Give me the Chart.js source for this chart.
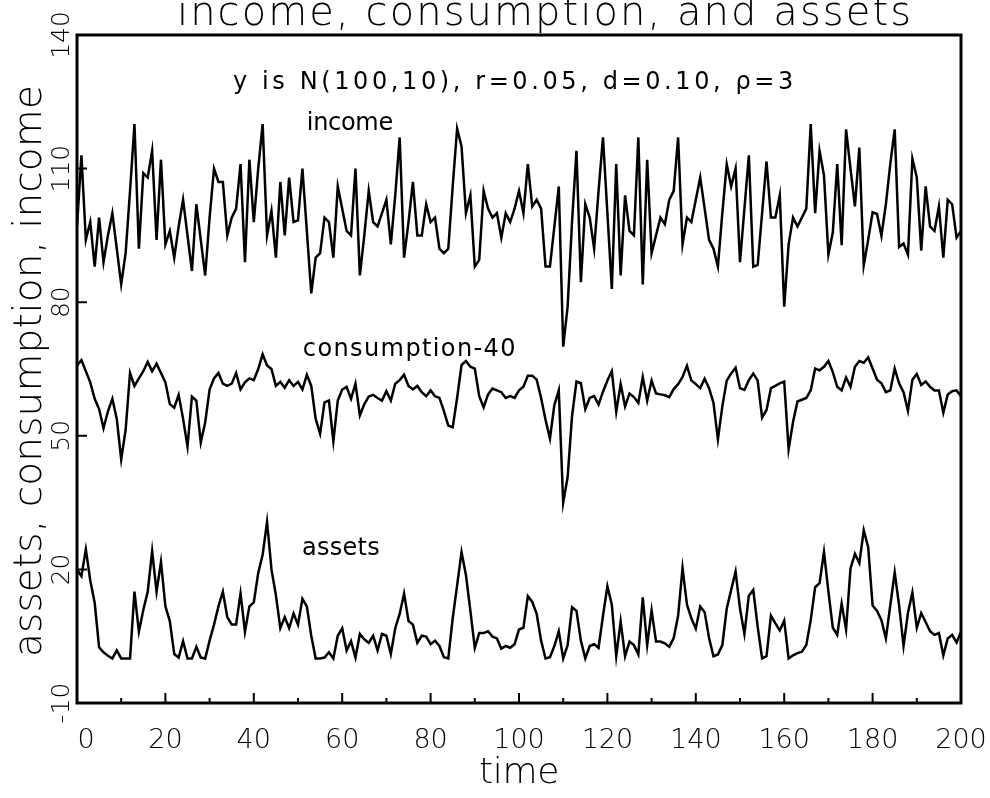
<!DOCTYPE html>
<html>
<head>
<meta charset="utf-8">
<title>income, consumption, and assets</title>
<script src="https://cdn.jsdelivr.net/npm/chart.js@4.4.0/dist/chart.umd.min.js"></script>
<style>
  html, body { margin: 0; padding: 0; background: #fff; }
  #wrap { width: 990px; height: 798px; }
</style>
</head>
<body>
<div id="wrap"><canvas id="chart" width="990" height="798"></canvas></div>
<script>
// ── Data ────────────────────────────────────────────────────────────────────

const chartTitle = "income, consumption, and assets";
const xTitle = "time";
const yTitle = "assets, consumption, income";

const xMajorTicks = [0, 20, 40, 60, 80, 100, 120, 140, 160, 180, 200];
const xMinorTicks = [10, 30, 50, 70, 90, 110, 130, 150, 170, 190];
const yTicks = [-10, 20, 50, 80, 110, 140];

// income, t = 0..200
const income = [
  97, 113, 94, 98, 88, 99, 89, 95, 100, 92, 84, 91, 105, 120, 92, 109, 108, 114, 94, 112,
  93, 96, 90, 97, 103, 95, 87, 102, 94, 86, 99, 110, 107, 107, 95, 99, 101, 111, 89,
  112, 98, 110, 120, 95, 100.5, 90, 107, 95, 108, 98, 98.4, 110, 96, 82, 90, 91, 99, 98, 90,
  106, 101, 96, 95, 110, 86, 95, 105, 98, 97, 100, 103, 93, 104, 117, 90, 98, 107, 95,
  95, 102, 98, 99, 92, 91, 92, 106, 119, 115, 100, 104, 88, 89.5, 105, 101, 99, 100, 94.5, 100,
  98, 101, 105, 100, 111, 101.5, 103, 101, 88, 88, 97, 106, 70, 79, 98, 114, 84.5, 102, 99, 92,
  105, 117, 100, 83, 111, 86, 104, 96, 95, 117, 84, 112, 91, 95, 99, 97.5, 103, 105, 117, 93,
  99, 98, 103, 108, 101, 94, 92, 88, 100, 111, 106, 110, 89, 101, 113, 88, 88.4, 100, 111.6,
  99, 99, 104, 79, 93, 99, 97, 99, 101, 120, 100, 114, 108.5, 90.7, 95.7, 111, 92.8, 118.8, 110, 101.5,
  114.7, 88.3, 94, 100.2, 99.8, 94.9, 102, 111, 118.8, 92.4, 93.2, 90.7, 112.2, 108, 91.6, 106, 97, 96, 101.5, 90,
  103, 102, 94.5, 96
];

// consumption minus 40, t = 0..200
const consumptionLess40 = [
  65.8, 67, 64.5, 62, 58.3, 56, 51.7, 55.5, 58.3, 53.8, 44.7, 51.3, 64.1, 61.2, 62.9, 64.5, 66.6, 64.5, 66.2, 64.1,
  62, 57.1, 56.3, 59.2, 53.8, 47.6, 58.8, 57.9, 48.5, 53, 60.4, 62.9, 64.1, 61.7, 61.2, 61.7, 64.1, 60.4, 62,
  62.9, 62.5, 65, 68.3, 65.8, 65, 61.2, 62.1, 60.8, 62.5, 61.2, 62.1, 60.4, 63.7, 61.2, 53.8, 50.5, 57.5, 57.9, 48.8,
  57.9, 60.4, 61, 58.3, 61.7, 54.6, 57.1, 58.8, 59.2, 58.5, 57.9, 60, 57.9, 61.7, 62.5, 63.7, 61.2, 60.4, 61.2,
  59.8, 58.9, 60.2, 58.9, 58.5, 55.6, 52.3, 51.9, 58.5, 65.9, 66.8, 65.5, 65.1, 58.9, 56.4, 59.3, 60.6, 60.2, 59.8, 58.5,
  58.9, 58.5, 60.2, 61, 63.5, 63.5, 62.6, 58.5, 53.6, 49.4, 56.9, 60.2, 35, 40.7, 54.4, 62.2, 61.8, 56, 58.5, 58.9,
  57, 59.9, 62.4, 64.5, 55.4, 61.6, 56.6, 59.5, 58.7, 57.4, 63.2, 57.9, 62.4, 59.5, 59.3, 59.1, 58.7, 60.5, 61.6, 63.2,
  65.7, 62.4, 61.6, 60.7, 62.8, 60.7, 57.4, 49.2, 56.6, 62.4, 64, 65.3, 60.7, 60.3, 62.5, 64, 62.4, 54.1, 55.8, 60.7, 61.2,
  61.8, 62.2, 47, 53.1, 57.7, 58.1, 58.5, 60.2, 65.1, 64.7, 65.5, 66.8, 64.3, 61, 60.2, 63.1, 61, 65.5, 66.8, 66.4,
  67.6, 65.1, 62.6, 61.8, 59.8, 60.2, 65.1, 61.8, 59.8, 55.6, 62.6, 63.9, 61.4, 62.2, 61, 60.2, 60.2, 55.2, 59.3, 60,
  60.2, 58.9
];

// assets, t = 0..200
const assets = [
  20, 18.5, 24.5, 17.5, 12.5, 2.5, 1.4, 0.6, 0, 1.8, 0, 0, 0, 15, 6, 10.9, 15, 24.1, 15, 21.7,
  11.7, 8.4, 1, 0.2, 3.9, 0, 0, 2.6, 0.2, 0, 4, 7.6, 11.7, 15, 9.3, 7.6, 7.6, 14.6, 6, 11.7,
  12.6, 19.2, 23.3, 30.7, 20, 14.2, 6.8, 9.3, 6.8, 10.1, 7.6, 13.4, 11.7, 5.1, 0, 0, 0.2, 1.4, 0, 5.1,
  6.8, 1.8, 3.9, 0.2, 5.5, 4.3, 3.5, 5.1, 1.8, 5.5, 5.1, 1, 6.8, 10, 14.6, 8.4, 7.6, 3.5, 5.1,
  4.9, 3.2, 4, 2.8, 0.3, 0, 9, 16.4, 23.9, 18.7, 10.7, 2.4, 5.7, 5.7, 6.1, 4.9, 4.5, 2.2, 2.8, 2.4,
  3.2, 6.5, 6.9, 14, 12.7, 10, 4, 0, 0.3, 2.8, 6.1, 0, 3, 11.5, 10.7, 4, 0, 2.8, 3.2, 2.4,
  9.6, 16.2, 12.1, 0.5, 8.3, 0.5, 3.8, 3, 0.9, 13.7, 3, 10.8, 3.8, 3.8, 3.4, 2.6, 4.6, 9.6, 20.3, 12.1,
  9, 6.7, 11.7, 10.4, 4.6, 0.5, 0.9, 3, 11.2, 15.4, 19.5, 11.2, 5.5, 14.1, 15.4, 7.1, 0, 0.5, 9.6, 7.9, 6.3,
  8.5, 0, 0.7, 1.2, 1.5, 3, 8.6, 16, 16.9, 23.9, 15, 6.9, 5.3, 12.3, 6.5, 20.2, 23.5, 21.4, 28.8, 25,
  11.9, 10.7, 8.6, 4.5, 11.9, 19.3, 11.9, 2.8, 10.2, 14.8, 6.9, 10.2, 8.2, 6.1, 5.3, 5.7, 0.7, 4.5, 5.3, 3.6,
  6
];

// Text notes inside the frame, anchored in data units (time, level)
const notes = [
  { text: "y is N(100,10), r=0.05, d=0.10, \u03c1=3", t: 35.3, v: 127.9, width: 564 },
  { text: "income",         t: 52.0, v: 118.7, width: 86 },
  { text: "consumption-40", t: 51.1, v: 67.9,  width: 214 },
  { text: "assets",         t: 50.9, v: 23.2,  width: 78 },
];

const FONT = '"DejaVu Sans", "Liberation Sans", sans-serif';
const LIGHT = "200 ";   // thin strokes for the large axis lettering

// ── Helpers ─────────────────────────────────────────────────────────────────

function toPoints(values) {
  return values.map((v, i) => ({ x: i, y: v }));
}

// Draws text left-aligned at (x, y), spreading letters to fill `width`
function spacedText(ctx, text, x, y, width, font) {
  ctx.font = font;
  if ("letterSpacing" in ctx) ctx.letterSpacing = "0px";
  const natural = ctx.measureText(text).width;
  if ("letterSpacing" in ctx) {
    const gap = (width - natural) / Math.max(text.length, 1);
    ctx.letterSpacing = gap.toFixed(2) + "px";
  }
  ctx.textAlign = "left";
  ctx.textBaseline = "alphabetic";
  ctx.fillText(text, x, y);
  if ("letterSpacing" in ctx) ctx.letterSpacing = "0px";
}

// ── Frame, ticks and labels ─────────────────────────────────────────────────

const decorations = {
  id: "decorations",
  afterDraw(chart) {
    const { ctx, chartArea: a, scales: { x, y } } = chart;
    ctx.save();
    ctx.fillStyle = "#000";
    ctx.strokeStyle = "#000";

    // frame
    ctx.lineWidth = 3;
    ctx.strokeRect(a.left, a.top, a.right - a.left, a.bottom - a.top);

    // inward ticks
    ctx.lineWidth = 2;
    ctx.beginPath();
    xMajorTicks.forEach(v => {
      const px = x.getPixelForValue(v);
      ctx.moveTo(px, a.bottom); ctx.lineTo(px, a.bottom - 10);
    });
    xMinorTicks.forEach(v => {
      const px = x.getPixelForValue(v);
      ctx.moveTo(px, a.bottom); ctx.lineTo(px, a.bottom - 5);
    });
    yTicks.forEach(v => {
      const py = y.getPixelForValue(v);
      ctx.moveTo(a.left, py); ctx.lineTo(a.left + 10, py);
    });
    ctx.stroke();

    // x tick labels
    ctx.font = LIGHT + "27px " + FONT;
    ctx.textAlign = "center";
    ctx.textBaseline = "alphabetic";
    xMajorTicks.forEach(v => {
      const px = x.getPixelForValue(v) + (v === 0 ? 9 : 0);
      ctx.fillText(String(v), px, a.bottom + 45);
    });

    // y tick labels, turned to read upwards
    ctx.font = LIGHT + "25px " + FONT;
    yTicks.forEach(v => {
      const py = y.getPixelForValue(v);
      ctx.save();
      ctx.translate(a.left - 8, py);
      ctx.rotate(-Math.PI / 2);
      ctx.textAlign = "center";
      ctx.fillText(String(v), 0, 0);
      ctx.restore();
    });

    // titles
    spacedText(ctx, chartTitle, 545 - 368, 25, 736, LIGHT + "40px " + FONT);
    spacedText(ctx, xTitle, 519 - 40, 783, 80, LIGHT + "36px " + FONT);

    ctx.save();
    ctx.translate(41, 371);
    ctx.rotate(-Math.PI / 2);
    spacedText(ctx, yTitle, -286, 0, 572, LIGHT + "39px " + FONT);
    ctx.restore();

    // notes
    notes.forEach(n => {
      spacedText(ctx, n.text, x.getPixelForValue(n.t), y.getPixelForValue(n.v), n.width, "24px " + FONT);
    });

    ctx.restore();
  }
};

// ── Chart ───────────────────────────────────────────────────────────────────

const series = [income, consumptionLess40, assets];

new Chart(document.getElementById("chart"), {
  type: "line",
  data: {
    datasets: series.map(values => ({
      data: toPoints(values),
      borderColor: "#000",
      borderWidth: 2.5,
      pointRadius: 0,
      tension: 0,
      fill: false,
    }))
  },
  options: {
    responsive: false,
    animation: false,
    devicePixelRatio: 1,
    layout: { padding: { top: 35, right: 29, left: 0, bottom: 0 } },
    plugins: {
      legend: { display: false },
      tooltip: { enabled: false },
      title: { display: false },
    },
    scales: {
      x: {
        type: "linear",
        min: 0,
        max: 200,
        grid: { display: false },
        border: { display: false },
        ticks: { display: false },
        afterFit: s => { s.height = 95; },
      },
      y: {
        min: -10,
        max: 140,
        grid: { display: false },
        border: { display: false },
        ticks: { display: false },
        afterFit: s => { s.width = 77; },
      }
    }
  },
  plugins: [decorations]
});
</script>
</body>
</html>
